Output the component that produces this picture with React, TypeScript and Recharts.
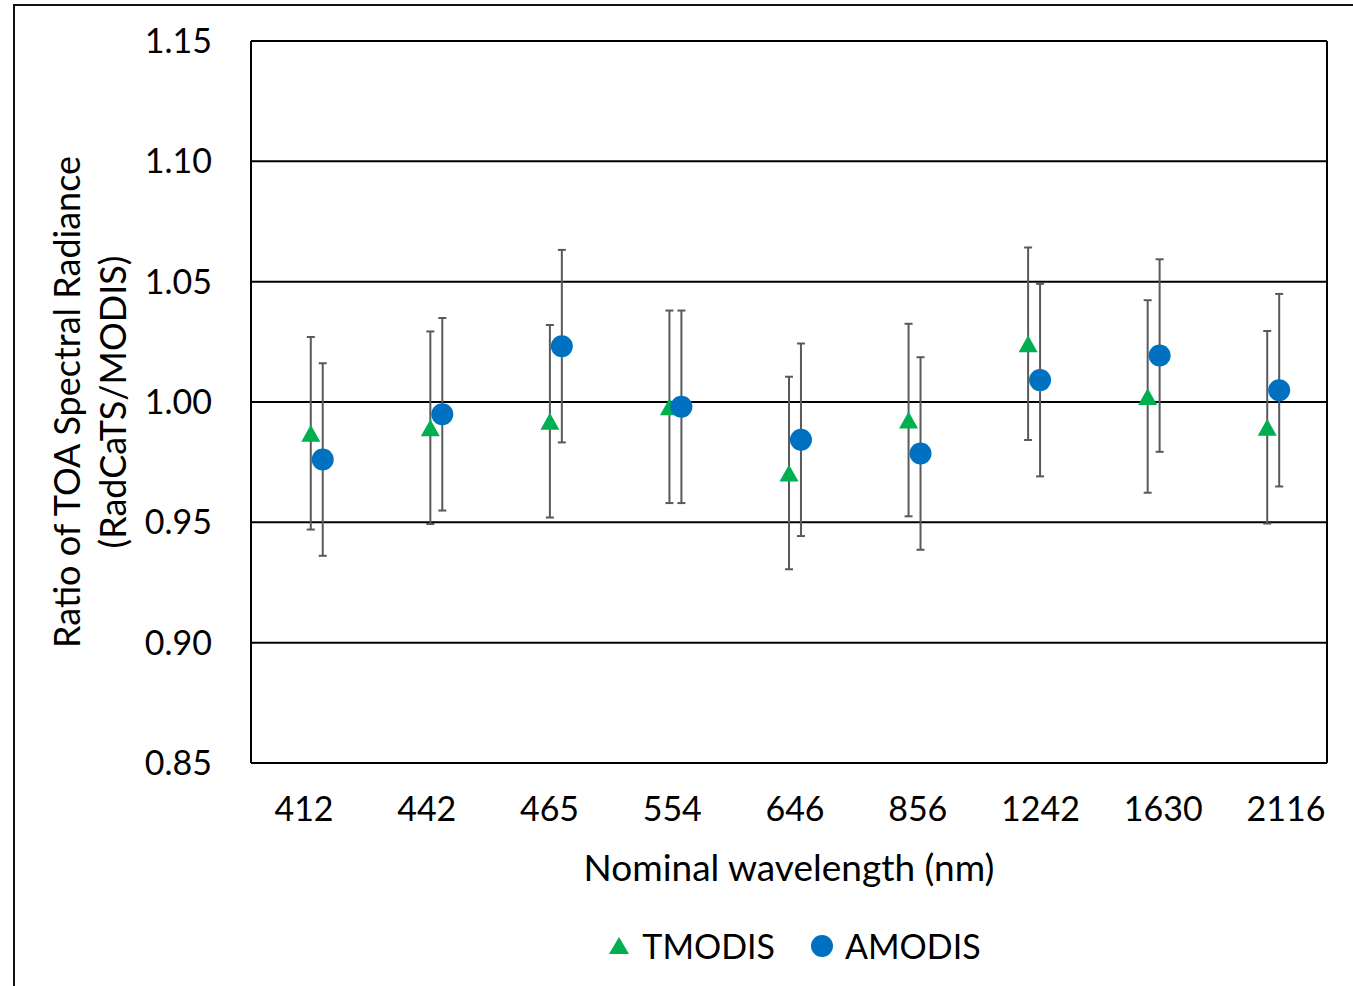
import {
  CartesianGrid,
  ComposedChart,
  ErrorBar,
  Legend,
  Scatter,
  XAxis,
  YAxis,
} from 'recharts'

const WAVELENGTHS = ['412', '442', '465', '554', '646', '856', '1242', '1630', '2116']
const TMODIS_RATIO = [0.987, 0.9893, 0.992, 0.998, 0.9705, 0.9925, 1.0242, 1.0023, 0.9895]
const TMODIS_ERR = [0.04, 0.04, 0.04, 0.04, 0.04, 0.04, 0.04, 0.04, 0.04]
const AMODIS_RATIO = [0.9761, 0.9949, 1.0232, 0.998, 0.9843, 0.9786, 1.0091, 1.0193, 1.0049]
const AMODIS_ERR = [0.04, 0.04, 0.04, 0.04, 0.04, 0.04, 0.04, 0.04, 0.04]
const Y_TICKS = [0.85, 0.9, 0.95, 1.0, 1.05, 1.1, 1.15]
const CATEGORY_TICKS = [1, 2, 3, 4, 5, 6, 7, 8, 9]
// AMODIS is plotted a little to the right of each category, like the original Excel chart
const AMODIS_SHIFT = 0.1

const FONT = 'Lato, "Open Sans", "Liberation Sans", sans-serif'
const GREEN = '#00b050'
const BLUE = '#0070c0'
const ERR_GREY = '#595959'

const tmodisData = WAVELENGTHS.map((w, i) => ({ x: i + 1, y: TMODIS_RATIO[i], err: TMODIS_ERR[i], label: w }))
const amodisData = WAVELENGTHS.map((w, i) => ({ x: i + 1 + AMODIS_SHIFT, y: AMODIS_RATIO[i], err: AMODIS_ERR[i], label: w }))

function TriangleMarker(props: any) {
  const { cx, cy } = props
  return <polygon points={`${cx},${cy - 8.5} ${cx + 9.5},${cy + 8.5} ${cx - 9.5},${cy + 8.5}`} fill={GREEN} />
}

function CircleMarker(props: any) {
  const { cx, cy } = props
  return <circle cx={cx} cy={cy} r={11} fill={BLUE} />
}

// the original spreads its category labels a bit wider than the categories themselves
function WavelengthTick(props: any) {
  const { x, y, payload } = props
  const mid = 789
  const lx = mid + 6 + (x - mid) * 1.0267
  return (
    <text x={lx} y={y} dy="0.71em" textAnchor="middle" fill="#000" fontSize={34} fontFamily={FONT}>
      {WAVELENGTHS[Math.round(payload.value) - 1]}
    </text>
  )
}

function YTitle(props: any) {
  const { viewBox } = props
  const cy = viewBox.y + viewBox.height / 2
  const x1 = viewBox.x - 61
  const x2 = viewBox.x - 15
  return (
    <g fontFamily={FONT} fontSize={36} fill="#000">
      <text x={x1} y={cy} textAnchor="middle" transform={`rotate(-90, ${x1}, ${cy})`}>
        Ratio of TOA Spectral Radiance
      </text>
      <text x={x2} y={cy} textAnchor="middle" transform={`rotate(-90, ${x2}, ${cy})`}>
        (RadCaTS/MODIS)
      </text>
    </g>
  )
}

function LegendContent() {
  return (
    <div
      style={{
        display: 'flex',
        justifyContent: 'center',
        alignItems: 'center',
        height: 93,
        paddingTop: 12,
        paddingLeft: 12,
        boxSizing: 'border-box',
        fontFamily: FONT,
        fontSize: 34,
        color: '#000',
      }}
    >
      <svg width={20} height={18} style={{ marginRight: 13 }}>
        <polygon points="10,0 20,17 0,17" fill={GREEN} />
      </svg>
      <span style={{ marginRight: 36 }}>TMODIS</span>
      <svg width={22} height={22} style={{ marginRight: 12 }}>
        <circle cx={11} cy={11} r={11} fill={BLUE} />
      </svg>
      <span>AMODIS</span>
    </div>
  )
}

export default function App() {
  return (
    <div style={{ position: 'absolute', left: 0, top: 0, width: 1353, height: 986, background: '#fff' }}>
      <div
        style={{
          position: 'absolute',
          left: 13,
          top: 4,
          right: 0,
          bottom: 0,
          borderLeft: '2px solid #111',
          borderTop: '2px solid #111',
        }}
      />
      <ComposedChart
        width={1353}
        height={986}
        margin={{ top: 41, right: 26, bottom: 0, left: 141 }}
        style={{ position: 'absolute', left: 0, top: 0 }}
      >
        <CartesianGrid
          stroke="#000"
          strokeWidth={2}
          horizontalValues={Y_TICKS}
          verticalCoordinatesGenerator={({ offset }: any) => [offset.left, offset.left + offset.width]}
        />
        <XAxis
          type="number"
          dataKey="x"
          domain={[0.5, 9.5]}
          ticks={CATEGORY_TICKS}
          axisLine={false}
          tickLine={false}
          tickSize={0}
          tickMargin={34}
          height={130}
          interval={0}
          tick={<WavelengthTick />}
          label={{
            value: 'Nominal wavelength (nm)',
            position: 'insideBottom',
            offset: 12,
            fill: '#000',
            fontSize: 37,
            fontFamily: FONT,
          }}
        />
        <YAxis
          type="number"
          dataKey="y"
          domain={[0.85, 1.15]}
          ticks={Y_TICKS}
          tickFormatter={(v: number) => v.toFixed(2)}
          axisLine={false}
          tickLine={false}
          tickSize={0}
          tickMargin={39}
          width={110}
          interval={0}
          tick={{ fill: '#000', fontSize: 34, fontFamily: FONT }}
          label={{ content: <YTitle /> }}
        />
        <Legend
          verticalAlign="bottom"
          height={93}
          wrapperStyle={{ left: 251, width: 1076 }}
          content={<LegendContent />}
        />
        <Scatter name="TMODIS" data={tmodisData} shape={<TriangleMarker />} isAnimationActive={false}>
          <ErrorBar dataKey="err" direction="y" width={4} stroke={ERR_GREY} strokeWidth={2} isAnimationActive={false} />
        </Scatter>
        <Scatter name="AMODIS" data={amodisData} shape={<CircleMarker />} isAnimationActive={false}>
          <ErrorBar dataKey="err" direction="y" width={4} stroke={ERR_GREY} strokeWidth={2} isAnimationActive={false} />
        </Scatter>
      </ComposedChart>
    </div>
  )
}
